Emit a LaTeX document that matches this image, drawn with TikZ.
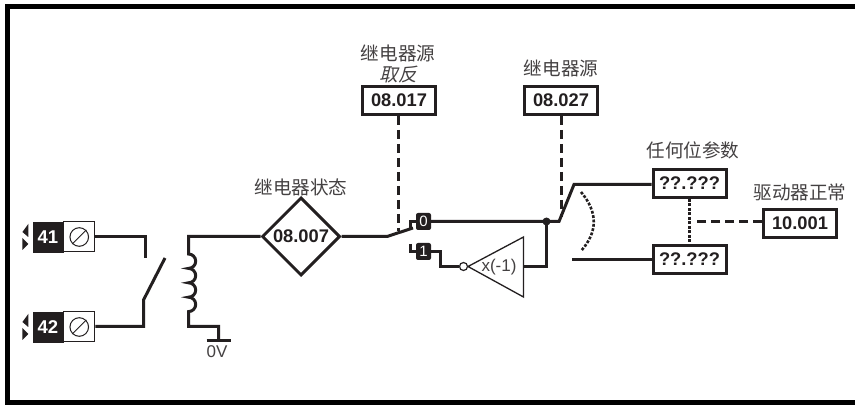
\documentclass[tikz,border=0pt]{standalone}
\usepackage{fontspec}
\usetikzlibrary{shapes.geometric}
\setmainfont{Liberation Sans}
\newfontfamily\cjk{Noto Sans CJK SC}
\newfontfamily\cjkit[FakeSlant=0.25]{Noto Sans CJK SC}
\definecolor{ink}{HTML}{231F20}
\tikzset{
  x=1pt,y=-1pt,
  wire/.style={draw=ink,line width=3pt,line cap=butt,line join=miter},
  parbox/.style={draw=ink,line width=3pt,minimum width=73pt,minimum height=28pt,inner sep=0pt,font=\fontsize{18.3}{18}\selectfont\bfseries,text=ink},
  cjklabel/.style={inner sep=0pt,font=\fontsize{18.6}{19}\selectfont\cjk,text=ink!85},
  dashwire/.style={draw=ink,line width=3pt,dash pattern=on 9.5pt off 4.5pt},
  dotwire/.style={draw=ink,line width=3pt,dash pattern=on 3pt off 1.5pt},
  termnum/.style={fill=ink,draw=ink,line width=.5pt,minimum width=30pt,minimum height=30pt,inner sep=0pt,text=white,font=\fontsize{18.5}{18}\selectfont\bfseries},
  termscrew/.style={fill=white,draw=ink,line width=1pt,minimum width=31pt,minimum height=30pt,inner sep=0pt},
  swbox/.style={fill=ink,rounded corners=2pt,minimum width=15pt,minimum height=17pt,inner sep=0pt,text=white,font=\fontsize{15}{15}\selectfont},
}
\begin{document}
\begin{tikzpicture}
\useasboundingbox (0,0) rectangle (855,406);
\fill[white] (0,0) rectangle (855,406);
\draw[black,line width=4.6pt,line cap=butt,line join=miter] (860,6.3) -- (7.5,6.3) -- (7.5,402.5) -- (860,402.5);
% terminals
\node[termnum] (t41) at (48,237) {41};
\node[termscrew,anchor=west] (s41) at (t41.east) {};
\node[termnum] (t42) at (48,327) {42};
\node[termscrew,anchor=west] (s42) at (t42.east) {};
\foreach \n in {s41,s42}{
  \draw[ink,line width=1pt] (\n.center) circle (9.3pt);
  \draw[ink,line width=1pt] ([shift={(-7,7)}]\n.center) -- ([shift={(7,-7)}]\n.center);
}
\foreach \n in {t41,t42}{
  \fill[ink] ([shift={(-4.5,-13)}]\n.west) -- ++(-5.8,8) -- ++(5.8,5) -- cycle;
  \fill[ink] ([shift={(-10.3,1)}]\n.west) -- ++(5.8,6) -- ++(-5.8,6) -- cycle;
}
% contact
\coordinate (w41) at (145.5,236.5);
\coordinate (c41) at (145.5,258);
\coordinate (w42) at (143.5,326.5);
\coordinate (c42) at (143.5,300);
\coordinate (c42t) at (165,258);
\draw[wire] (s41.east|-w41) -- (w41) -- (c41);
\draw[wire] (s42.east|-w42) -- (w42) -- (c42) -- (c42t);
% relay coil
\node[draw=ink,line width=3pt,shape=diamond,minimum width=78pt,minimum height=78pt,inner sep=0pt,font=\fontsize{18.3}{18}\selectfont\bfseries,text=ink] (d) at (301,236.5) {08.007};
\coordinate (gnd) at (218.5,340.5);
\draw[wire] (d.west) -- (188.5,236.5) -- (188.5,254)
  arc[start angle=-90,end angle=90,radius=7.2] arc[start angle=-90,end angle=90,radius=7.2]
  arc[start angle=-90,end angle=90,radius=7.2] arc[start angle=-90,end angle=90,radius=7.2]
  -- (188.5,326.5) -- (218.5,326.5) -- (gnd);
\draw[wire] (gnd) ++(-12,0) -- ++(24,0);
\node[inner sep=0pt,font=\fontsize{17}{17}\selectfont,text=ink!85] (zv) at (217,352) {0V};
\node[cjklabel] (lst) at (301,187) {继电器状态};
% selector
\node[swbox] (s0) at (423.5,221.5) {0};
\node[swbox] (s1) at (423.5,251.5) {1};
\coordinate (pivot) at (387,236.5);
\coordinate (arm) at (413,228);
\draw[wire] (d.east) -- (pivot) -- (arm);
\draw[wire] (410.5,229) -- (410.5,221.5) -- (s0.west);
\draw[wire] (410.5,244) -- (410.5,251.5) -- (s1.west);
% inverter
\coordinate (tip) at (468,266.5);
\coordinate (tb) at (523.5,237);
\coordinate (bb) at (523.5,297);
\draw[ink,line width=1.3pt,line join=miter] (tip) -- (tb) -- (bb) -- cycle;
\node[inner sep=0pt,font=\fontsize{17}{17}\selectfont,text=ink!85] (inv) at (499,267) {x(-1)};
\node[circle,draw=ink,line width=1.2pt,fill=white,minimum size=8pt,inner sep=0pt] (bub) at (463.5,266.5) {};
\coordinate (dot) at (546.5,221.5);
\draw[wire] (s1.east) -- (440.5,251.5) -- (440.5,266.5) -- (bub.west);
\draw[wire] (523,266.5) -- (dot|-0,266.5) -- (dot);
\fill[ink] (dot) circle (4pt);
% output changeover
\node[parbox] (p1) at (689.5,183.5) {??.???};
\node[parbox] (p2) at (689.5,259.5) {??.???};
\coordinate (sw) at (559,221.5);
\coordinate (swt) at (574,184.5);
\coordinate (lo) at (572,259.5);
\draw[wire] (s0.east) -- (sw) -- (swt) -- (p1.west|-swt);
\draw[wire] (lo) -- (p2.west|-lo);
\draw[ink,line width=2.6pt,dash pattern=on 2.8pt off 1.6pt] (581,192) .. controls (598,212) and (598,232) .. (581,251);
% parameters
\node[parbox] (a) at (399,100.5) {08.017};
\node[parbox] (b) at (561,100.5) {08.027};
\node[parbox] (c) at (800,223.5) {10.001};
\node[cjklabel] (la1) at (398,53) {继电器源};
\node[cjklabel,font=\fontsize{18.6}{19}\selectfont\cjkit] (la2) at (398,75) {取反};
\node[cjklabel] (lb) at (561,68) {继电器源};
\node[cjklabel] (lp) at (693,150) {任何位参数};
\node[cjklabel] (lc) at (800,192) {驱动器正常};
\coordinate (ae) at (398.5,231);
\coordinate (be) at (561.5,217);
\draw[dashwire] (a.south-|ae) -- (ae);
\draw[dashwire] (b.south-|be) -- (be);
\draw[dotwire] (p1.south) -- (p2.north);
\coordinate (cs) at (695,221.5);
\draw[dashwire] (c.west|-cs) -- (cs);
\end{tikzpicture}
\end{document}
